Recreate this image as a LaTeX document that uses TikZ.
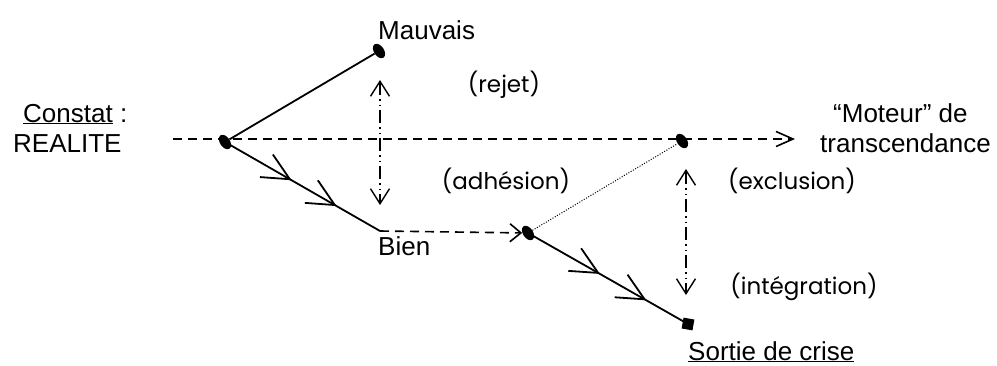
\documentclass[tikz,border=0pt]{standalone}
\usepackage{fontspec}
\setmainfont{Liberation Sans}
\newfontfamily\comicfont{Poppins}
\usetikzlibrary{arrows.meta,decorations.markings,shapes.geometric}
\begin{document}
\begin{tikzpicture}[x=1pt,y=-1pt,
  lbl/.style={font=\fontsize{26}{30}\selectfont, inner sep=0pt},
  cmt/.style={font=\comicfont\fontsize{23}{27}\selectfont, inner sep=0pt},
  solidline/.style={line width=1.8pt},
  dashline/.style={line width=1.6pt, dash pattern=on 9pt off 6pt},
  dashdot/.style={line width=1.3pt, dash pattern=on 13pt off 4pt on 1.5pt off 4pt on 1.5pt off 4pt},
  dotline/.style={line width=1pt, dash pattern=on 1pt off 1.6pt},
  dotnode/.style={ellipse, fill=black, draw=none, minimum width=16pt, minimum height=10pt, inner sep=0pt, rotate=-56},
  sqnode/.style={rectangle, fill=black, draw=none, minimum size=11pt, inner sep=0pt, rotate=-10},
  vbarb/.tip={Straight Barb[length=15pt,width=19pt,line width=1.4pt]},
  chevrons/.style 2 args={postaction={decorate}, decoration={markings,
     mark=at position #1 with {\arrow[line width=1.8pt]{Straight Barb[length=27pt,width=26pt]}},
     mark=at position #2 with {\arrow[line width=1.8pt]{Straight Barb[length=27pt,width=26pt]}}}}
]
\useasboundingbox (0,0) rectangle (997,365);

% points
\node[dotnode] (A) at (225,142) {};
\node[dotnode] (M) at (379,51) {};
\coordinate (B) at (380,231);
\node[dotnode] (P) at (682,141) {};
\node[dotnode] (Q) at (528,233) {};
\node[sqnode] (S) at (688,324) {};
\coordinate (L) at (173,139);
\coordinate (R) at (795,139);
\coordinate (v1t) at (380,80);
\coordinate (v1b) at (380,205);
\coordinate (v2t) at (686,169);
\coordinate (v2b) at (686,295);

% connectors
\draw[dashline, -{Straight Barb[length=17pt,width=15pt,line width=1.6pt]}] (L) -- (R);
\draw[solidline] (A) -- (M);
\draw[solidline, chevrons={0.43}{0.72}] (A.center) -- (B);
\draw[dashline, -{Straight Barb[length=11pt,width=18pt,line width=1.6pt]}] (B) -- (Q);
\draw[solidline, chevrons={0.45}{0.74}] (Q.center) -- (S.center);
\draw[dotline] (Q) -- (P);
\draw[dashdot, vbarb-vbarb] (v1t) -- (v1b);
\draw[dashdot, vbarb-vbarb] (v2t) -- (v2b);

% labels
\node[lbl, anchor=base west] (tMauvais) at (378,39) {Mauvais};
\node[lbl, anchor=base west] (tConstat) at (23,122) {\underline{Constat} :};
\node[lbl, anchor=base west] (tRealite) at (13,152) {REALITE};
\node[lbl, anchor=base west] (tMoteur) at (833,122) {“Moteur” de};
\node[lbl, anchor=base west] (tTrans) at (820,152) {transcendance};
\node[lbl, anchor=base west] (tBien) at (378,255) {Bien};
\node[lbl, anchor=base west] (tSortie) at (688,360) {\underline{Sortie de crise}};

\node[cmt] (tRejet) at (504,85) {(rejet)};
\node[cmt] (tAdh) at (506,181) {(adhésion)};
\node[cmt] (tExcl) at (792,181) {(exclusion)};
\node[cmt] (tInteg) at (804,287) {(intégration)};
\end{tikzpicture}
\end{document}
